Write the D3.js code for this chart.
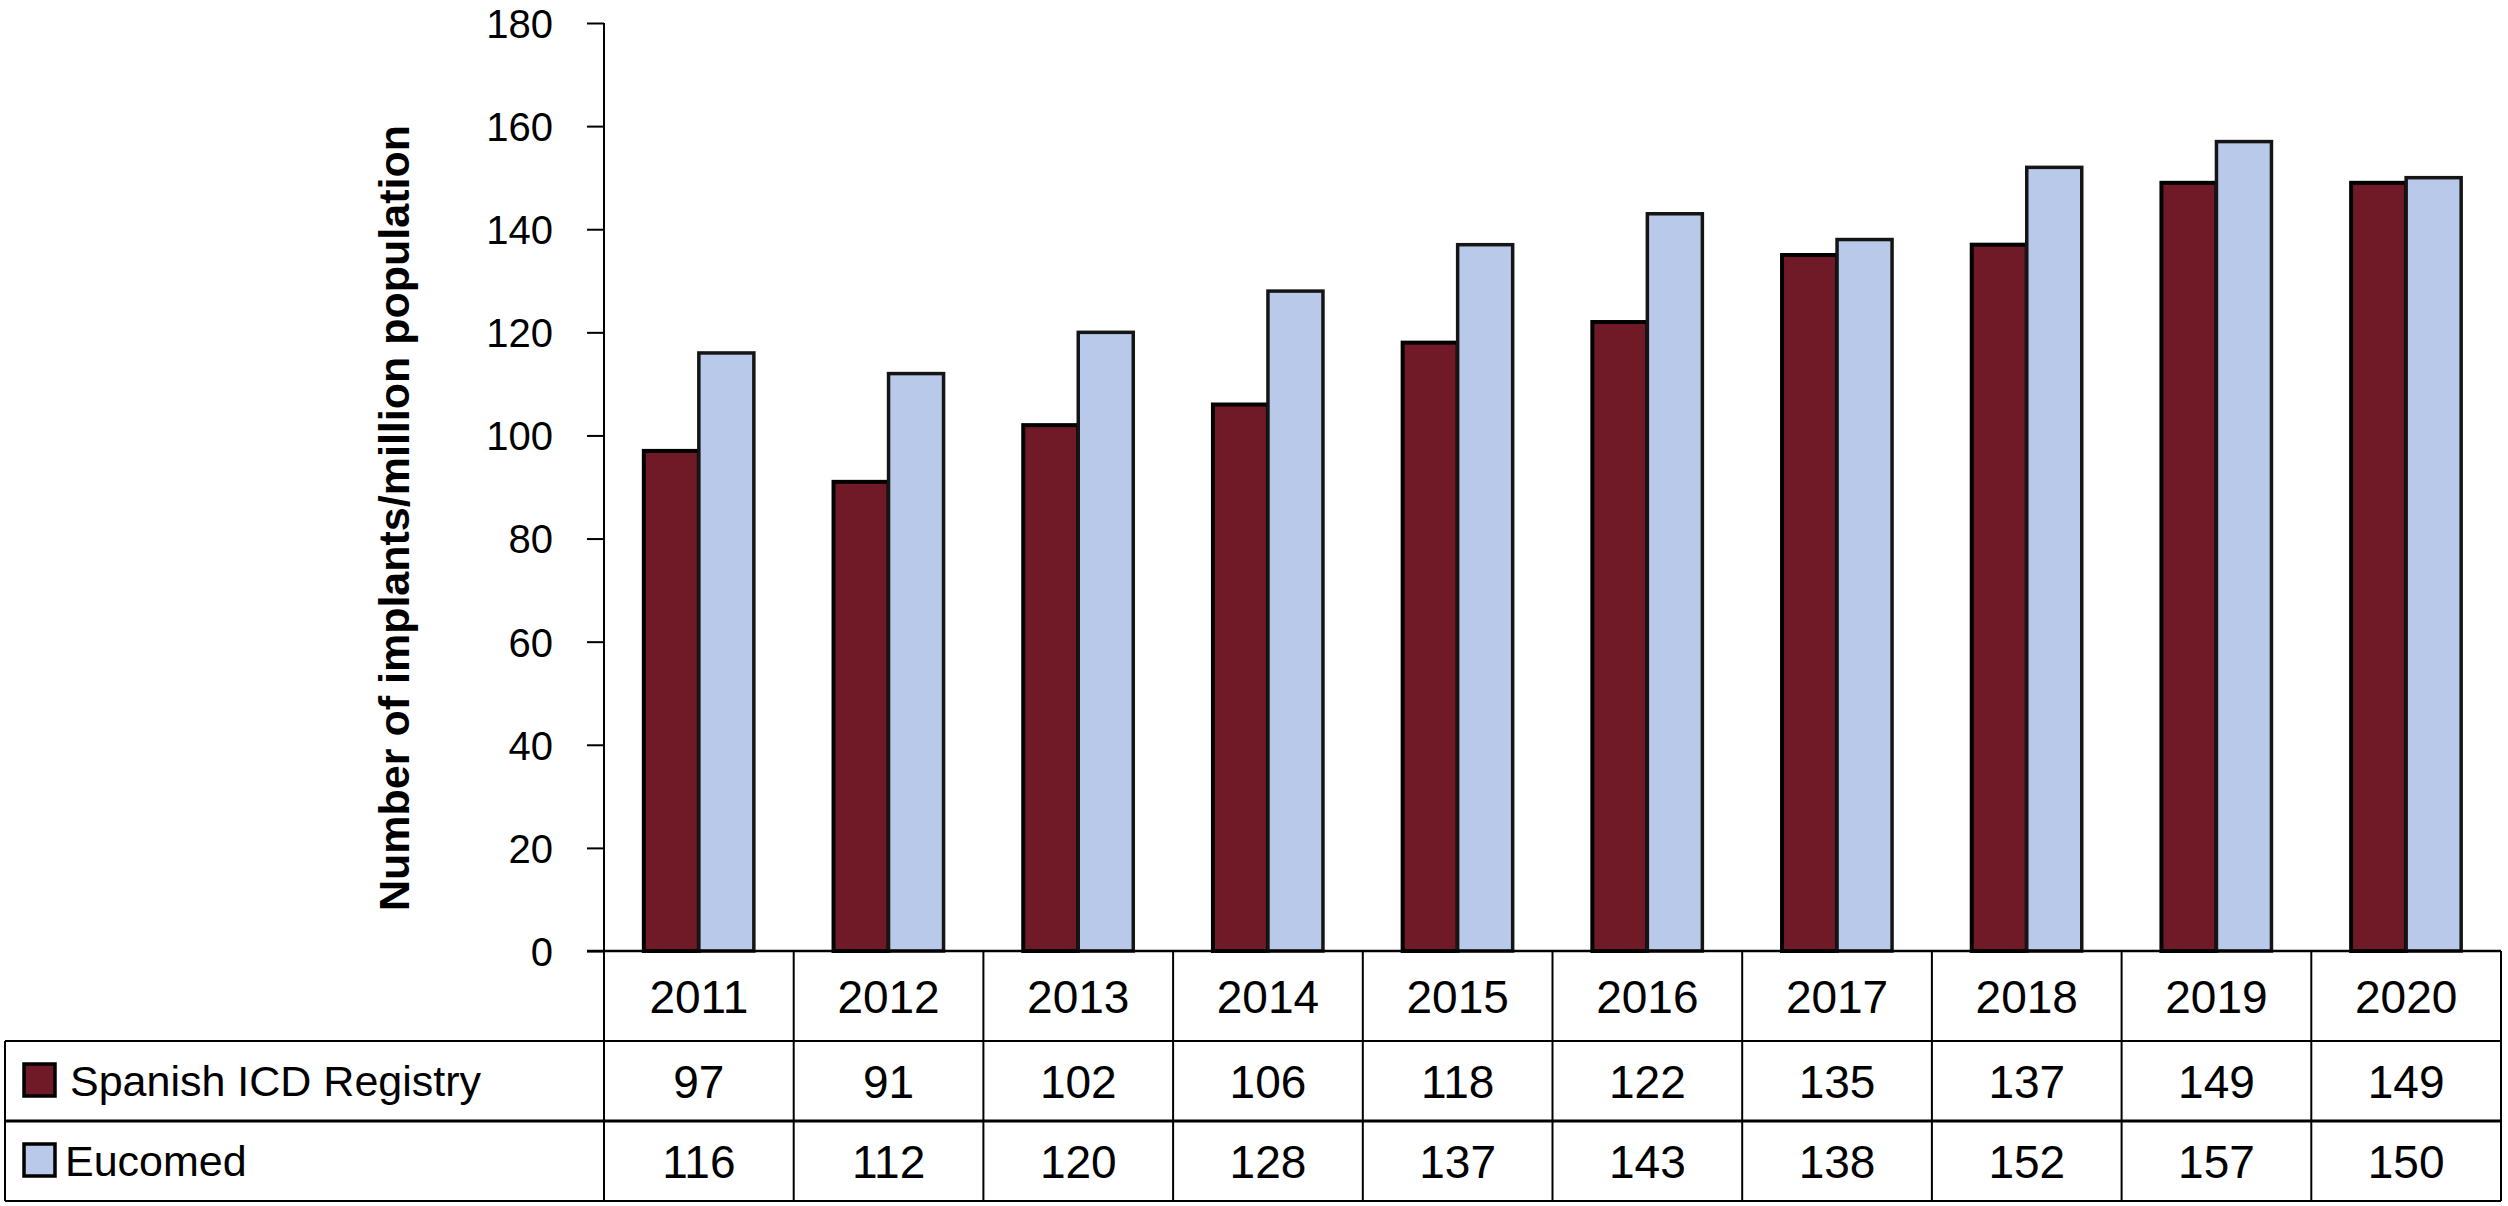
<!DOCTYPE html>
<html>
<head>
<meta charset="utf-8">
<script src="https://cdn.jsdelivr.net/npm/d3@7"></script>
<style>
html,body{margin:0;padding:0;background:#fff;}
svg{display:block;}
text{font-family:"Liberation Sans",Arial,sans-serif;fill:#000;}
</style>
</head>
<body>
<svg id="chart" width="2508" height="1206"></svg>
<script>
const years = ["2011","2012","2013","2014","2015","2016","2017","2018","2019","2020"];
const seriesNames = ["Spanish ICD Registry","Eucomed"];
const spanish = [97,91,102,106,118,122,135,137,149,149];
const eucomed = [116,112,120,128,137,143,138,152,157,150];
const yTicks = [0,20,40,60,80,100,120,140,160,180];
const colors = ["#711a27","#b8c9e9"];
const yTitle = "Number of implants/million population";

(function(){
const svg = d3.select("#chart");
const plotLeft = 604, plotRight = 2501, plotTop = 23, base = 951;
const rowY = [base, 1041, 1121, 1201];
const tableLeft = 5;

const x = d3.scaleBand().domain(years).range([plotLeft, plotRight]).padding(0);
const y = d3.scaleLinear().domain([0, 180]).range([base, plotTop]);
const bw = x.bandwidth();
const barW = bw * 0.29;
const xs = d3.scaleBand().domain(seriesNames).range([(bw - 2*barW)/2, (bw + 2*barW)/2]).padding(0);

const seriesData = [spanish, eucomed];

// bars
seriesNames.forEach((s, si) => {
  svg.append("g").selectAll("rect")
    .data(years.map((yr, i) => ({yr, v: seriesData[si][i]})))
    .join("rect")
    .attr("x", d => x(d.yr) + xs(s))
    .attr("y", d => y(d.v))
    .attr("width", xs.bandwidth())
    .attr("height", d => base - y(d.v))
    .attr("fill", colors[si])
    .attr("stroke", si === 0 ? "#000" : "#151515")
    .attr("stroke-width", si === 0 ? 4 : 3.5);
});

// y axis
const yAxis = d3.axisLeft(y).tickValues(yTicks).tickSize(17).tickPadding(34).tickFormat(d3.format("d"));
const ga = svg.append("g").attr("transform", `translate(${plotLeft},0)`).call(yAxis);
ga.select(".domain").remove();
ga.selectAll(".tick line").attr("stroke", "#000").attr("stroke-width", 2);
ga.selectAll(".tick text").attr("font-size", 40).attr("font-family", "Liberation Sans, Arial, sans-serif").attr("dy", "0.36em");

// axis line (continues down as table border)
svg.append("line").attr("x1", plotLeft).attr("x2", plotLeft).attr("y1", y(180)).attr("y2", rowY[3])
  .attr("stroke", "#000").attr("stroke-width", 2);

// y title
svg.append("text")
  .attr("transform", `translate(409,518) rotate(-90)`)
  .attr("text-anchor", "middle")
  .attr("font-size", 43)
  .attr("font-weight", "bold")
  .text(yTitle);

// table grid
const grid = svg.append("g").attr("stroke", "#000");
grid.append("line").attr("x1", plotLeft - 17).attr("x2", plotRight).attr("y1", base).attr("y2", base).attr("stroke-width", 2.5);
grid.append("line").attr("x1", tableLeft).attr("x2", plotRight).attr("y1", rowY[1]).attr("y2", rowY[1]).attr("stroke-width", 2);
grid.append("line").attr("x1", tableLeft).attr("x2", plotRight).attr("y1", rowY[2]).attr("y2", rowY[2]).attr("stroke-width", 3);
grid.append("line").attr("x1", tableLeft).attr("x2", plotRight).attr("y1", rowY[3]).attr("y2", rowY[3]).attr("stroke-width", 2);
grid.append("line").attr("x1", tableLeft).attr("x2", tableLeft).attr("y1", rowY[1]).attr("y2", rowY[3]).attr("stroke-width", 2);
grid.selectAll("line.col").data(years.slice(1)).join("line").attr("class","col")
  .attr("x1", d => x(d)).attr("x2", d => x(d)).attr("y1", base).attr("y2", rowY[3]).attr("stroke-width", 2);
grid.append("line").attr("x1", plotRight).attr("x2", plotRight).attr("y1", base).attr("y2", rowY[3]).attr("stroke-width", 2);

// header years
svg.append("g").selectAll("text").data(years).join("text")
  .attr("x", d => x(d) + bw/2)
  .attr("y", (rowY[0] + rowY[1])/2)
  .attr("dy", "0.36em")
  .attr("text-anchor", "middle")
  .attr("font-size", 46)
  .text(d => d);

// value rows
seriesData.forEach((arr, si) => {
  svg.append("g").selectAll("text").data(arr).join("text")
    .attr("x", (d, i) => x(years[i]) + bw/2)
    .attr("y", (rowY[si+1] + rowY[si+2])/2)
    .attr("dy", "0.36em")
    .attr("text-anchor", "middle")
    .attr("font-size", 46)
    .text(d => d);
});

// legend cells
const legendTextX = [70, 65];
seriesNames.forEach((s, si) => {
  const cy = (rowY[si+1] + rowY[si+2])/2;
  svg.append("rect")
    .attr("x", 24).attr("y", cy - 17).attr("width", 31).attr("height", 32)
    .attr("fill", colors[si]).attr("stroke", "#000").attr("stroke-width", 3.5);
  svg.append("text")
    .attr("x", legendTextX[si]).attr("y", cy)
    .attr("dy", "0.36em")
    .attr("font-size", 43)
    .text(s);
});
})();
</script>
</body>
</html>
